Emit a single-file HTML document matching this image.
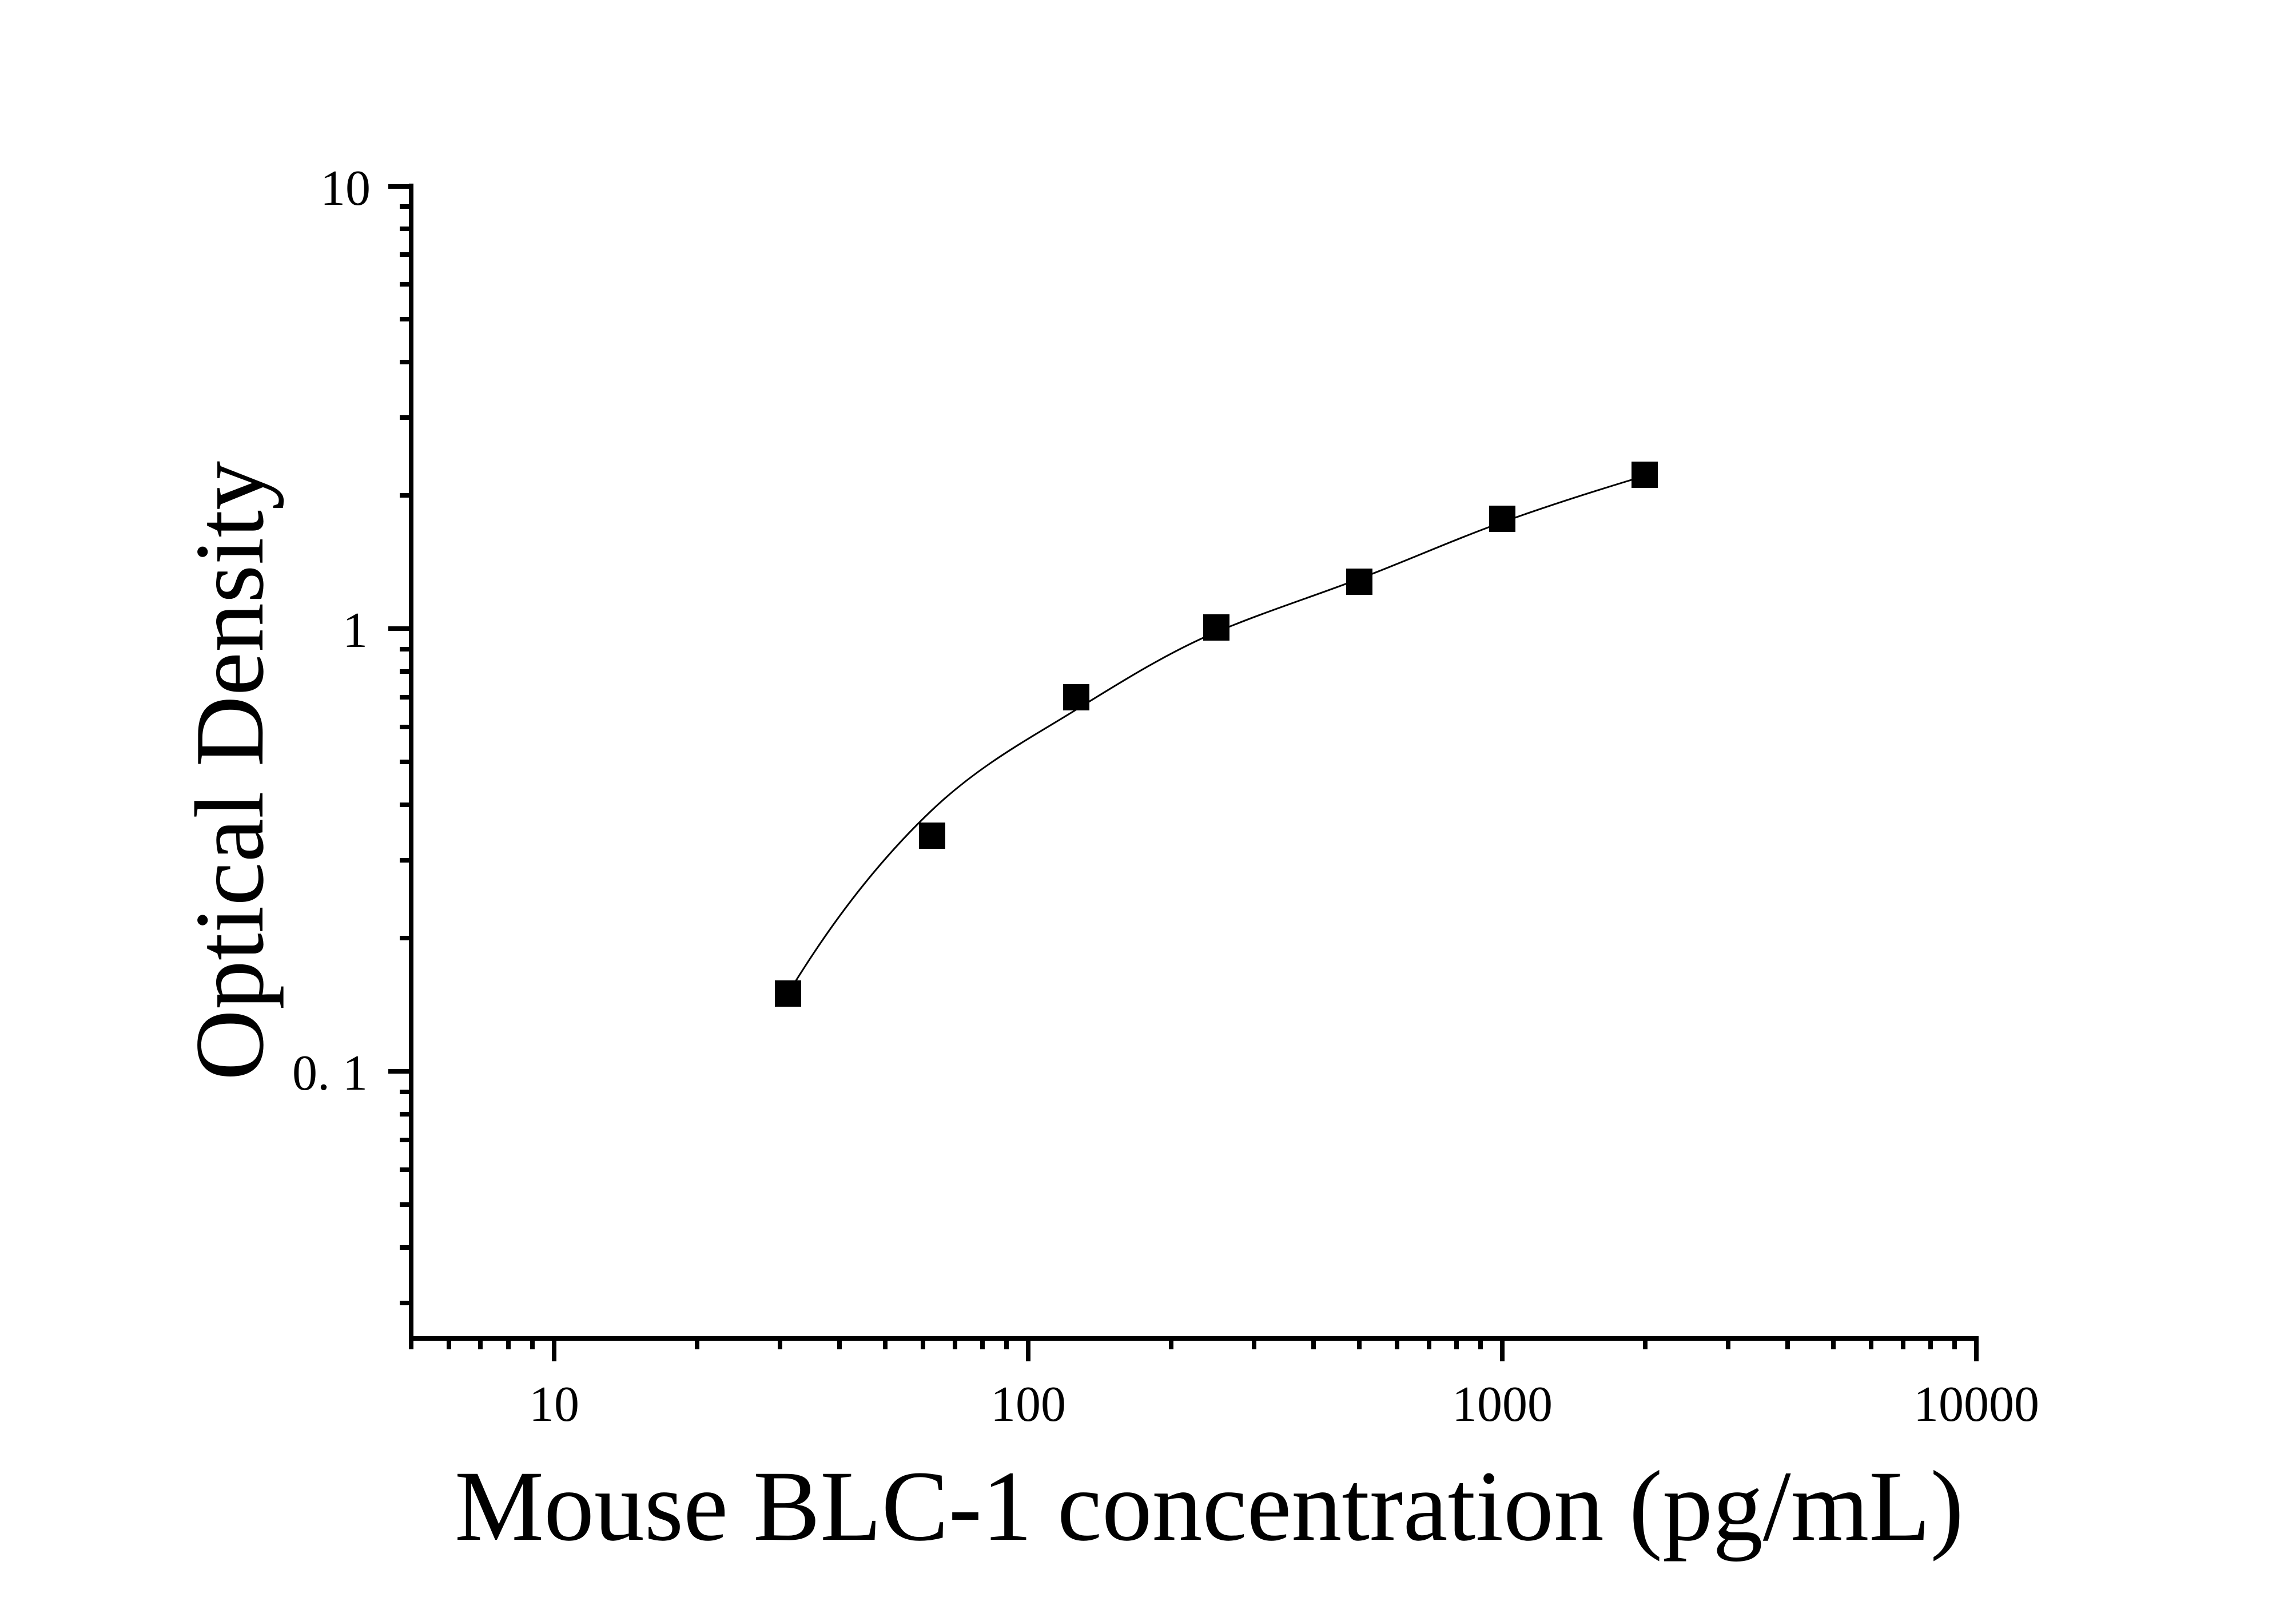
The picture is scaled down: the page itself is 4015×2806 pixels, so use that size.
<!DOCTYPE html>
<html><head><meta charset="utf-8"><style>html,body{margin:0;padding:0;background:#fff}svg{display:block}</style></head>
<body>
<svg width="4015" height="2806" viewBox="0 0 4015 2806" xmlns="http://www.w3.org/2000/svg" font-family="'Liberation Serif', serif">
<rect width="4015" height="2806" fill="#fff"/>
<g stroke="#000" stroke-width="8" fill="none">
<line x1="719" y1="321" x2="719" y2="2344"/>
<line x1="715" y1="2340" x2="3460" y2="2340"/>
<line x1="679" y1="326" x2="719" y2="326"/>
<line x1="679" y1="1099" x2="719" y2="1099"/>
<line x1="679" y1="1873" x2="719" y2="1873"/>
<path d="M699 866H719M699 730H719M699 633H719M699 558H719M699 497H719M699 445H719M699 400H719M699 361H719
M699 1640H719M699 1504H719M699 1407H719M699 1332H719M699 1271H719M699 1219H719M699 1174H719M699 1135H719
M699 1909H719M699 1948H719M699 1993H719M699 2045H719M699 2106H719M699 2181H719M699 2278H719"/>
<path d="M969 2340V2380M1798 2340V2380M2627 2340V2380M3456 2340V2380"/>
<path d="M719 2340V2359M785 2340V2359M840 2340V2359M889 2340V2359M931 2340V2359
M1219 2340V2359M1364 2340V2359M1468 2340V2359M1548 2340V2359M1614 2340V2359M1670 2340V2359M1718 2340V2359M1760 2340V2359
M2048 2340V2359M2193 2340V2359M2297 2340V2359M2377 2340V2359M2443 2340V2359M2499 2340V2359M2547 2340V2359M2589 2340V2359
M2877 2340V2359M3022 2340V2359M3126 2340V2359M3206 2340V2359M3272 2340V2359M3328 2340V2359M3376 2340V2359M3418 2340V2359"/>
</g>
<path d="M1378 1737 C1461.7 1598.9 1545.3 1496.5 1629 1417 C1713.7 1336.6 1798.3 1292.5 1883 1240 C1964.3 1189.6 2045.7 1139.1 2127 1105 C2210.3 1070 2293.7 1043.7 2377 1012 C2460.3 980.3 2543.7 943 2627 913 C2710 883.1 2793 856.9 2876 832" fill="none" stroke="#000" stroke-width="3"/>
<g fill="#000">
<rect x="1355" y="1714" width="46" height="46"/>
<rect x="1607" y="1438" width="46" height="46"/>
<rect x="1859" y="1196" width="46" height="46"/>
<rect x="2104" y="1074" width="46" height="46"/>
<rect x="2354" y="994" width="46" height="46"/>
<rect x="2604" y="884" width="46" height="46"/>
<rect x="2853" y="807" width="46" height="46"/>
</g>
<g font-size="88" fill="#000" text-anchor="end">
<text x="648" y="358">10</text>
<text x="643" y="1131">1</text>
<text x="643" y="1905">0. 1</text>
</g>
<g font-size="88" fill="#000" text-anchor="middle">
<text x="969" y="2484">10</text>
<text x="1798" y="2484">100</text>
<text x="2627" y="2484">1000</text>
<text x="3456" y="2484">10000</text>
</g>
<text x="795" y="2692" font-size="176" textLength="2639" lengthAdjust="spacingAndGlyphs" fill="#000">Mouse BLC-1 concentration (pg/mL)</text>
<text transform="translate(459,1889) rotate(-90)" x="0" y="0" font-size="172" textLength="1083" lengthAdjust="spacingAndGlyphs" fill="#000">Optical Density</text>
</svg>
</body></html>
